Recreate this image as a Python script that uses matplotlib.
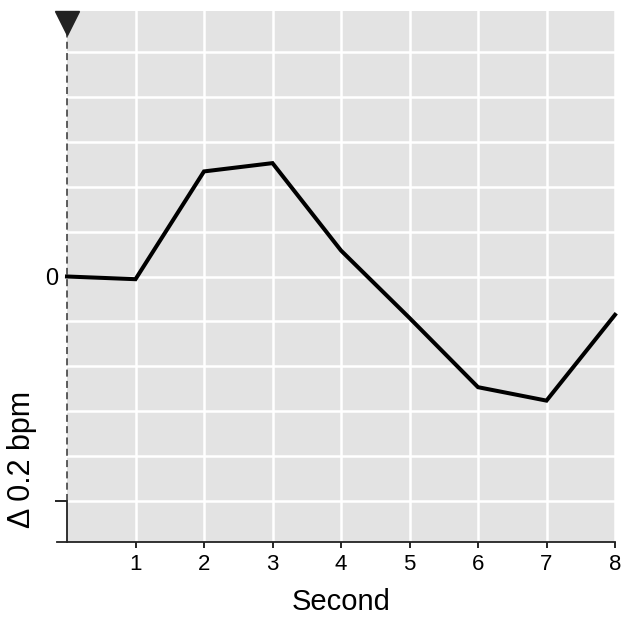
import matplotlib
matplotlib.use("Agg")
import matplotlib.pyplot as plt
import matplotlib.transforms as mtransforms
import numpy as np

seconds = [0, 1, 2, 3, 4, 5, 6, 7, 8]
delta_bpm = [0.0, -0.012, 0.469, 0.506, 0.116, -0.185, -0.494, -0.554, -0.171]
x_tick_labels = ["1", "2", "3", "4", "5", "6", "7", "8"]
y_grid_step = 0.2

plt.rcParams['font.family'] = ['Liberation Sans', 'DejaVu Sans']

fig = plt.figure(figsize=(6.22, 6.18), dpi=100)
ax = fig.add_axes([67/622, 1-542/618, (615-67)/622, (542-11)/618])
ax.set_facecolor('#e3e3e3')

ax.plot(seconds, delta_bpm, color='black', lw=2.9, solid_joinstyle='miter', zorder=3, clip_on=False)

ax.set_xlim(0, 8)
ax.set_ylim(-1.185, 1.185)

# grid
ax.set_xticks(range(1, 9))
ax.set_xticklabels(x_tick_labels, fontsize=16)
ax.set_yticks([-1.0, 0.0])
ax.set_yticklabels(["", "0"], fontsize=17)
ax.set_yticks(np.round(np.arange(-1.0, 1.01, y_grid_step), 2), minor=True)
ax.tick_params(axis='y', which='minor', length=0)
ax.grid(True, which='both', color='white', lw=1.8, zorder=1)
ax.set_axisbelow(True)
ax.tick_params(axis='x', length=4, width=1.2, pad=5)
ax.tick_params(axis='y', which='major', length=9, width=1.2, pad=-3)
ax.yaxis.get_major_ticks()[1].tick1line.set_visible(False)

for s in ['top', 'right', 'left', 'bottom']:
    ax.spines[s].set_visible(False)

# bottom axis line (extends a bit to the left)
ax.plot([-0.018, 1.0], [0, 0], transform=ax.transAxes, color='#222222', lw=1.3, clip_on=False, zorder=4)
# left axis: solid scale bar segment then dashed
ylo, yhi = ax.get_ylim()
ax.plot([0, 0], [ylo, -1.0], color='#222222', lw=1.3, clip_on=False, zorder=4)
ax.plot([0, 0], [-1.0, yhi], color='#333333', lw=1.1, ls=(0, (4.6, 2.8)), clip_on=False, zorder=4)
# triangle marker at top
trans = mtransforms.offset_copy(ax.transData, fig=fig, x=0, y=-12, units='dots')
ax.plot([0], [yhi], marker='v', markersize=17.5, color='#222222', transform=trans, clip_on=False, zorder=5)

ax.set_xlabel("Second", fontsize=21, labelpad=9)
ax.set_ylabel("Δ 0.2 bpm", fontsize=22)
ax.yaxis.set_label_coords(-0.055, 0.155)

fig.savefig("out.png", dpi=100)
